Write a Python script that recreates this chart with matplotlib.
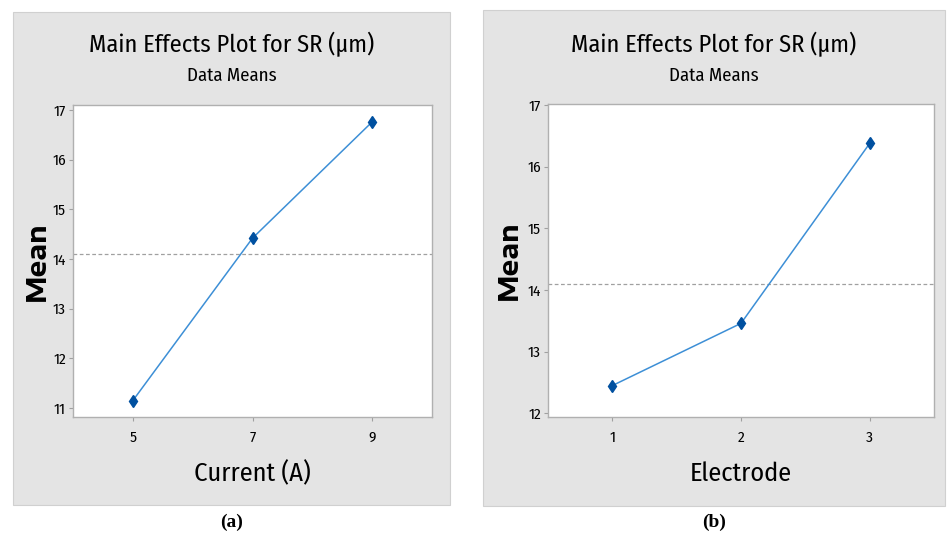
import matplotlib
matplotlib.use("Agg")
from matplotlib import pyplot as plt
from matplotlib.patches import Rectangle

current = [5, 7, 9]
current_mean = [11.15, 14.42, 16.76]
electrode = [1, 2, 3]
electrode_mean = [12.45, 13.46, 16.38]

title = "Main Effects Plot for SR (μm)"
subtitle = "Data Means"
narrow = ["Fira Sans Condensed", "DejaVu Sans"]
wide = ["Encode Sans Expanded", "DejaVu Sans"]

W, H = 950, 540
fig = plt.figure(figsize=(9.5, 5.4), dpi=100)
fig.patch.set_facecolor("white")


def fx(px):
    return px / W


def fy(py):
    return 1 - py / H


def panel(box, axbox, xs, ys, xlim, ylim, yticks, xlabel, tag):
    # grey minitab-like background
    x0, y0, x1, y1 = box
    fig.patches.append(Rectangle((fx(x0), fy(y1)), fx(x1 - x0), (y1 - y0) / H,
                                 transform=fig.transFigure, facecolor="#e4e4e4",
                                 edgecolor="#d0d0d0", lw=0.8, zorder=-5))
    l, t, r, b = axbox
    ax = fig.add_axes([fx(l), fy(b), fx(r - l), (b - t) / H])
    ax.set_facecolor("white")
    mean = sum(ys) / len(ys)
    ax.axhline(mean, color="#a0a0a0", ls=(0, (3, 2)), lw=0.9, zorder=1)
    ax.plot(xs, ys, color="#3d8fd6", lw=1.1, zorder=2)
    ax.plot(xs, ys, ls="none", marker="d", ms=6, color="#0050a0", zorder=3)
    ax.set_xlim(*xlim)
    ax.set_ylim(*ylim)
    ax.set_xticks(xs)
    ax.set_yticks(yticks)
    ax.tick_params(labelsize=11, length=3, color="#a0a0a0", pad=2)
    for lab in ax.get_xticklabels() + ax.get_yticklabels():
        lab.set_family(narrow)
        lab.set_fontweight("normal")
    ax.tick_params(axis="x", pad=7)
    for s in ax.spines.values():
        s.set_color("#b0b0b0")
        s.set_linewidth(1.0)
    ax.set_ylabel("Mean", fontsize=19, fontweight="bold", family=wide)
    ax.yaxis.set_label_coords(-0.102, 0.5)
    ax.yaxis.label.set_va("center")
    ax.set_xlabel(xlabel, fontsize=19, family=narrow, fontweight="normal")
    ax.xaxis.set_label_coords(0.5, -0.18)
    ax.xaxis.label.set_va("center")
    cx = fx((x0 + x1) / 2)
    fig.text(cx, fy(44), title, ha="center", va="center", fontsize=17.5,
             family=narrow, fontweight="normal")
    fig.text(cx, fy(76), subtitle, ha="center", va="center", fontsize=13.5,
             family=narrow, fontweight="normal")
    fig.text(cx, fy(522), tag, ha="center", va="center", fontsize=14,
             family="Liberation Serif", fontweight="bold")
    return ax


panel((13, 12, 450, 505), (73, 105, 432, 417), current, current_mean,
      (4, 10), (10.82, 17.1), [11, 12, 13, 14, 15, 16, 17], "Current (A)", "(a)")
panel((483, 10, 945, 506), (548, 104, 934, 417), electrode, electrode_mean,
      (0.5, 3.5), (11.94, 17.02), [12, 13, 14, 15, 16, 17], "Electrode", "(b)")

plt.savefig("out.png", dpi=100)
